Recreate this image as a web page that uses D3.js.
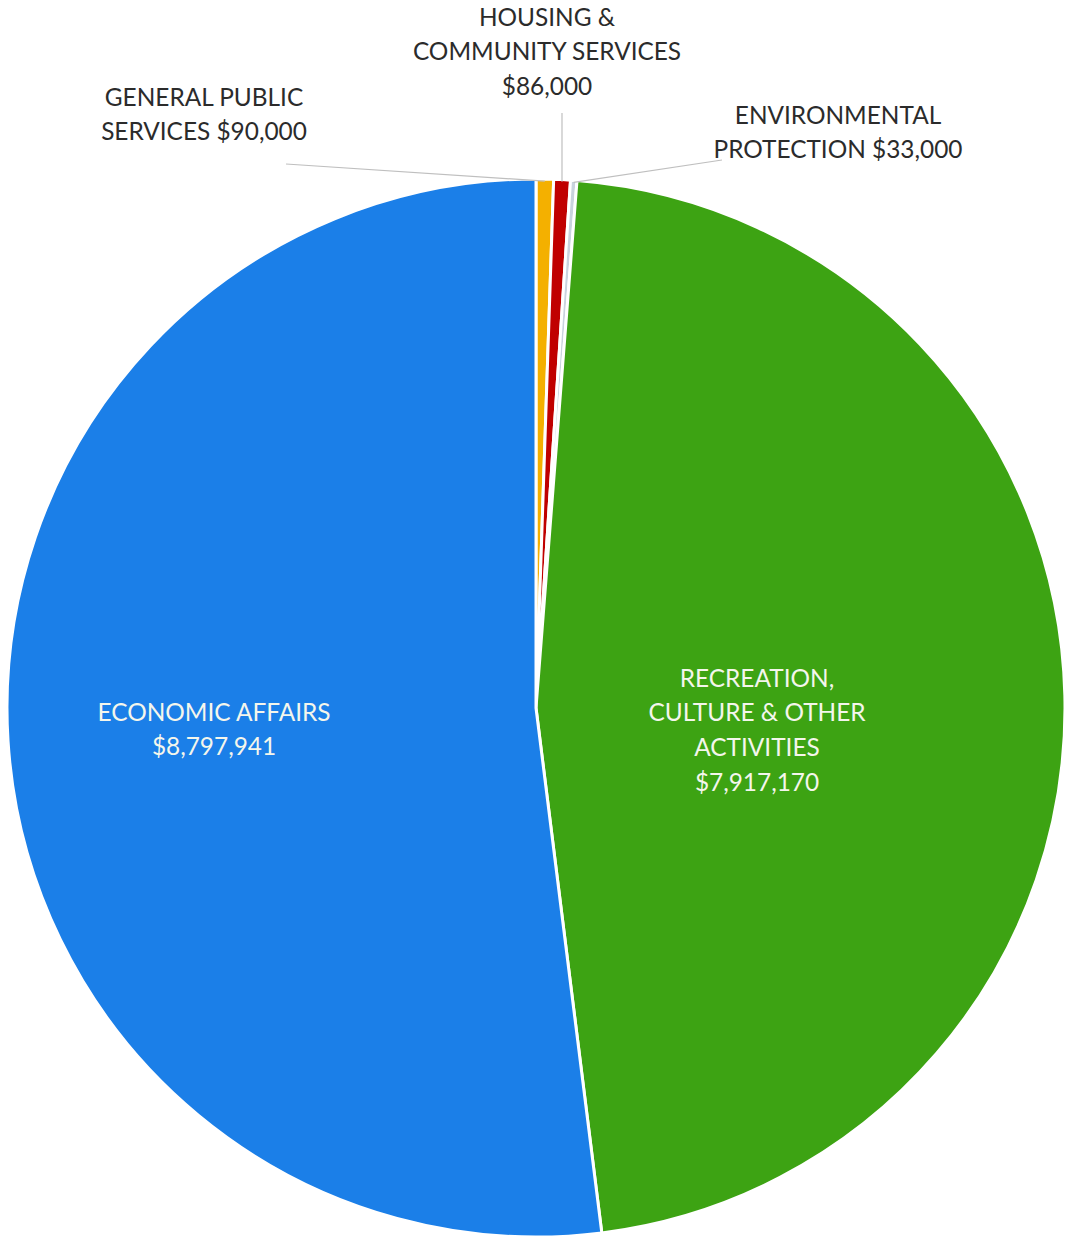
<!DOCTYPE html>
<html>
<head>
<meta charset="utf-8">
<script src="https://cdn.jsdelivr.net/npm/d3@7"></script>
<style>
  html, body { margin: 0; padding: 0; background: #ffffff; }
  svg { display: block; }
</style>
</head>
<body>
<svg id="chart" width="1069" height="1237"></svg>
<script>
// Spending by function (clockwise from 12 o'clock)
const categories = [
  "GENERAL PUBLIC SERVICES",
  "HOUSING & COMMUNITY SERVICES",
  "ENVIRONMENTAL PROTECTION",
  "RECREATION, CULTURE & OTHER ACTIVITIES",
  "ECONOMIC AFFAIRS"
];
const values = [90000, 86000, 33000, 7917170, 8797941];
const colors = ["#f4b000", "#c00000", "#c9d3de", "#3da313", "#1b7fe8"];
// Label text lines per slice
const labelLines = [
  ["GENERAL PUBLIC", "SERVICES $90,000"],
  ["HOUSING &", "COMMUNITY SERVICES", "$86,000"],
  ["ENVIRONMENTAL", "PROTECTION $33,000"],
  ["RECREATION,", "CULTURE & OTHER", "ACTIVITIES", "$7,917,170"],
  ["ECONOMIC AFFAIRS", "$8,797,941"]
];

const svg = d3.select("#chart");
const cx = 536, cy = 708, r = 529;

const pie = d3.pie().sort(null).value(d => d)(values);
const arc = d3.arc().innerRadius(0).outerRadius(r);

const g = svg.append("g").attr("transform", `translate(${cx},${cy})`);

g.selectAll("path.slice")
  .data(pie)
  .join("path")
  .attr("class", "slice")
  .attr("d", arc)
  .attr("fill", (d, i) => colors[i])
  .attr("stroke", "#ffffff")
  .attr("stroke-width", 3)
  .attr("stroke-linejoin", "round");

// Label anchors: outside labels for the small slices, inside for the large ones
const labelPos = [
  { x: 204 - cx, y: 97 - cy, outside: true },
  { x: 547 - cx, y: 17 - cy, outside: true },
  { x: 838 - cx, y: 115 - cy, outside: true },
  { x: 757 - cx, y: 678 - cy, outside: false },
  { x: 214 - cx, y: 712 - cy, outside: false }
];
// Leader line end points (where each line leaves its label)
const leaderStart = [
  { x: 286 - cx, y: 164 - cy },
  { x: 562 - cx, y: 113 - cy },
  { x: 722 - cx, y: 160 - cy }
];

const lineH = 34.8;

// Leader lines from label to slice edge
pie.forEach((d, i) => {
  if (!labelPos[i].outside) return;
  const mid = (d.startAngle + d.endAngle) / 2;
  const ex = Math.sin(mid) * (r - 2);
  const ey = -Math.cos(mid) * (r - 2);
  g.append("line")
    .attr("x1", leaderStart[i].x).attr("y1", leaderStart[i].y)
    .attr("x2", ex).attr("y2", ey)
    .attr("stroke", "#bfbfbf")
    .attr("stroke-width", 1.2);
});

const labels = g.selectAll("text.label")
  .data(pie)
  .join("text")
  .attr("class", "label")
  .attr("text-anchor", "middle")
  .attr("font-family", "Lato, 'Open Sans', sans-serif")
  .attr("font-size", 24.4)
  .attr("fill", (d, i) => labelPos[i].outside ? "#2b2b2b" : "#f4f6ec")
  .attr("x", (d, i) => labelPos[i].x)
  .attr("y", (d, i) => labelPos[i].y);

labels.each(function (d, i) {
  const t = d3.select(this);
  labelLines[i].forEach((line, k) => {
    t.append("tspan")
      .attr("x", labelPos[i].x)
      .attr("y", labelPos[i].y + k * lineH)
      .attr("dy", "0.35em")
      .text(line);
  });
});
</script>
</body>
</html>
